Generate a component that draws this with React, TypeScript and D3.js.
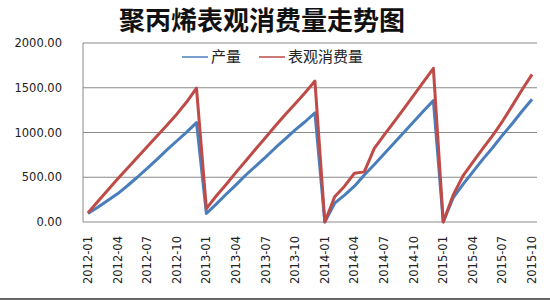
import React from "react";
import * as d3 from "d3";

const title = "聚丙烯表观消费量走势图";
const seriesNames = ["产量", "表观消费量"];
const years = [2012, 2013, 2014, 2015];
const monthsPerYear = [12, 12, 12, 10];
const categories: string[] = [];
years.forEach((y, yi) => {
  for (let m = 1; m <= monthsPerYear[yi]; m++) categories.push(`${y}-${String(m).padStart(2, "0")}`);
});
const production = [
  95, 165, 240, 315, 405, 500, 600, 700, 805, 905, 1005, 1110,
  95, 200, 310, 415, 525, 625, 725, 830, 930, 1030, 1120, 1220,
  0, 210, 300, 400, 525, 640, 760, 880, 1000, 1120, 1240, 1356,
  0, 270, 420, 560, 700, 830, 970, 1100, 1240, 1371,
];
const consumption = [
  100, 230, 355, 480, 600, 720, 840, 960, 1080, 1205, 1340, 1495,
  150, 290, 420, 555, 685, 815, 945, 1075, 1200, 1320, 1445, 1575,
  0, 283, 400, 545, 560, 820, 970, 1115, 1265, 1415, 1565, 1717,
  0, 300, 515, 670, 820, 965, 1125, 1300, 1480, 1650,
];
const yTicks = [0, 500, 1000, 1500, 2000];
const colors = ["#4a7ebb", "#be4b48"];

export default function App() {
  const W = 550, H = 300;
  const left = 83, right = 537, top = 43, bottom = 222;
  const x = d3.scaleBand<string>().domain(categories).range([left, right]);
  const y = d3.scaleLinear().domain([0, 2000]).range([bottom, top]);
  const cx = (c: string) => (x(c) as number) + x.bandwidth() / 2;
  const line = d3.line<number>().x((_, i) => cx(categories[i])).y((d) => y(d));
  const tickCats = categories.filter((_, i) => i % 3 === 0);
  return (
    <svg width={W} height={H} style={{ position: "absolute", left: 0, top: 0, background: "#fff" }}>
      <text x={262} y={30} textAnchor="middle" fontFamily="'Noto Sans CJK SC'" fontWeight="bold" fontSize={26} fill="#111">
        {title}
      </text>
      {yTicks.map((t) => (
        <g key={t}>
          <line x1={left} x2={right} y1={y(t)} y2={y(t)} stroke="#8a8a8a" strokeWidth={1} />
          <text x={62} y={y(t) + 4} textAnchor="end" fontFamily="'DejaVu Sans'" fontSize={11.5} fill="#222">
            {t.toFixed(2)}
          </text>
        </g>
      ))}
      <line x1={left} x2={left} y1={top} y2={bottom} stroke="#8a8a8a" strokeWidth={1} />
      {tickCats.map((c) => (
        <text key={c} transform={`translate(${cx(c) + 4},${236}) rotate(-90)`} textAnchor="end"
          fontFamily="'DejaVu Sans'" fontSize={11.5} fill="#222">
          {c}
        </text>
      ))}
      <path d={line(production) || ""} fill="none" stroke={colors[0]} strokeWidth={3} strokeLinejoin="round" />
      <path d={line(consumption) || ""} fill="none" stroke={colors[1]} strokeWidth={3} strokeLinejoin="round" />
      <g fontFamily="'Noto Sans CJK SC'" fontSize={15} fill="#222">
        <line x1={182} x2={208} y1={57} y2={57} stroke={colors[0]} strokeWidth={1.5} />
        <text x={211} y={62}>{seriesNames[0]}</text>
        <line x1={259} x2={285} y1={57} y2={57} stroke={colors[1]} strokeWidth={1.5} />
        <text x={288} y={62}>{seriesNames[1]}</text>
      </g>
      <line x1={0} x2={W} y1={299} y2={299} stroke="#666" strokeWidth={2} />
    </svg>
  );
}
